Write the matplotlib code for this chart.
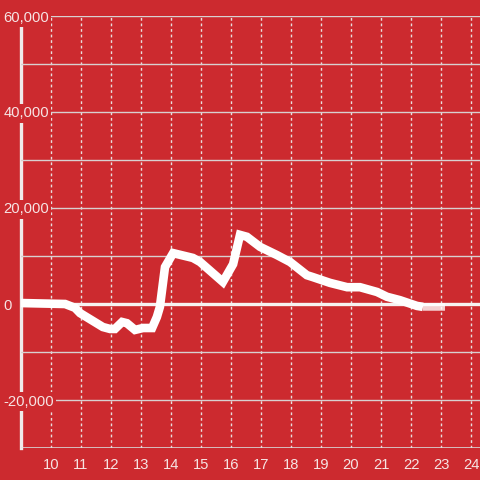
import matplotlib
matplotlib.use("Agg")
import matplotlib.pyplot as plt
from matplotlib.ticker import MultipleLocator, FuncFormatter

hours = [9.0, 10.47, 10.8, 10.97, 11.73, 11.97, 12.13, 12.37, 12.53, 12.8, 13.07,
         13.37, 13.53, 13.63, 13.8, 14.07, 14.73, 14.97, 15.73, 16.07, 16.3, 16.53,
         16.97, 17.53, 17.97, 18.53, 18.73, 19.3, 19.87, 20.3, 20.87, 21.2, 21.63,
         22.2, 22.4, 23.13]
values = [200, 0, -800, -1900, -4800, -5200, -5200, -3750, -4000, -5400, -5000,
          -5000, -2700, -600, 7700, 10600, 9600, 8750, 4600, 8300, 14400, 14000,
          11900, 10200, 8750, 6000, 5600, 4400, 3500, 3500, 2500, 1500, 800,
          -400, -600, -600]
x_ticks = list(range(10, 25))
y_labels = [-20000, 0, 20000, 40000, 60000]

BG = "#cc2a2f"
TXT = "#f6e4e4"

fig = plt.figure(figsize=(4.8, 4.8), dpi=100, facecolor=BG)
ax = fig.add_axes([21/480, 1-448/480, 1-21/480, (448-16)/480])
ax.set_facecolor(BG)
ax.set_xlim(9, 9 + 459/30)
ax.set_ylim(-30000, 60000)

for s in ["top", "right", "bottom"]:
    ax.spines[s].set_visible(False)
ax.spines["left"].set_color("#f0eaea")
ax.spines["left"].set_linewidth(2.4)
ax.spines["left"].set_zorder(1)

ax.yaxis.set_minor_locator(MultipleLocator(10000))
ax.set_yticks(y_labels)
ax.yaxis.set_major_formatter(FuncFormatter(lambda v, p: f"{int(v):,}"))
ax.set_xticks(x_ticks)
ax.set_xticklabels([str(t) for t in x_ticks])

ax.grid(axis="y", which="both", color="#d8d0d0", linewidth=1.0, zorder=0)
ax.grid(axis="x", which="major", color="#e8dede", linewidth=1.0, linestyle=(0, (2, 2)), zorder=0)
ax.axhline(-30000, color="#d8d0d0", linewidth=1.2, zorder=0)

ax.tick_params(axis="both", which="both", length=0, colors=TXT, labelsize=10.6)
ax.tick_params(axis="y", pad=12.6)
ax.tick_params(axis="x", pad=7.5)
for lab in ax.get_yticklabels():
    lab.set_horizontalalignment("left")
    lab.set_fontfamily("Liberation Sans")
    lab.set_bbox(dict(facecolor=BG, edgecolor="none", pad=1.5))
    lab.set_zorder(5)
for lab in ax.get_xticklabels():
    lab.set_fontfamily("Liberation Sans")

ax.axhline(0, color="#f7f2f2", linewidth=2.4, zorder=2)
ax.plot(hours[:-1], values[:-1], color="white", linewidth=6.2,
        solid_joinstyle="miter", solid_capstyle="butt", zorder=3)
ax.plot(hours[-2:], values[-2:], color="white", alpha=0.78, linewidth=5.4,
        solid_capstyle="butt", zorder=3)

fig.savefig("out.png", dpi=100, facecolor=BG)
